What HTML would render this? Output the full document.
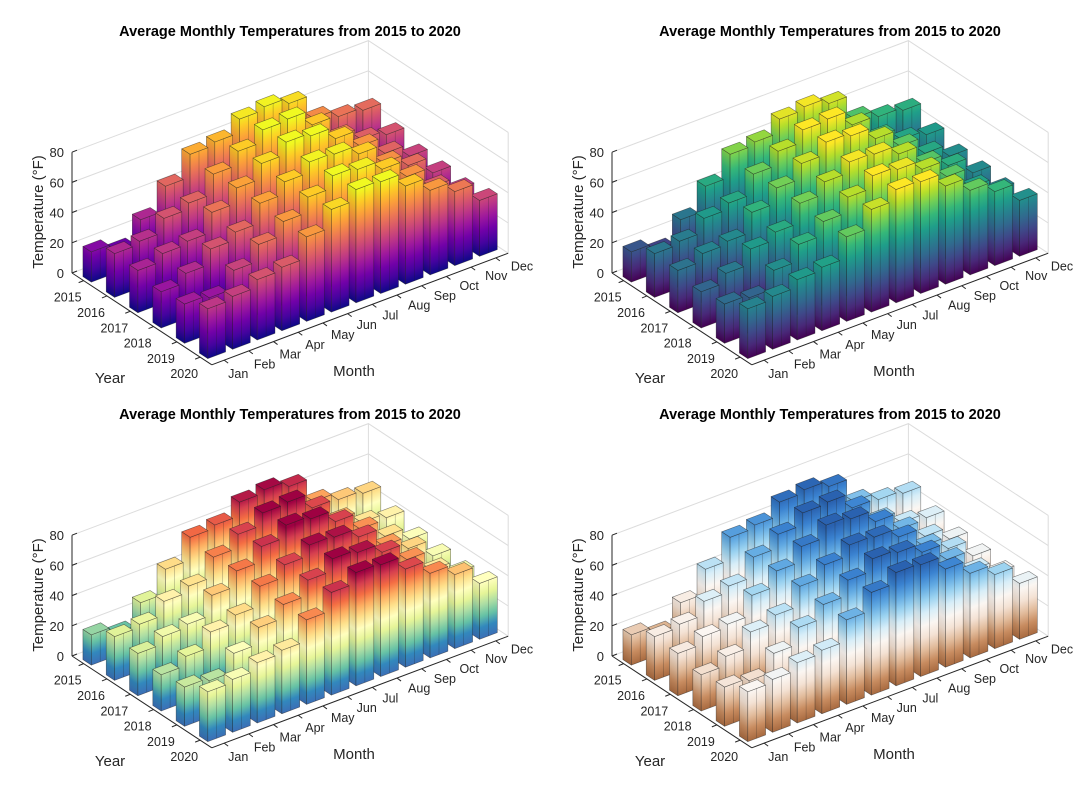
<!DOCTYPE html>
<html><head><meta charset="utf-8"><style>
html,body{margin:0;padding:0;background:#fff;}
svg{display:block;font-family:"Liberation Sans",Arial,sans-serif;}
</style></head><body>
<svg id="chart" width="1080" height="804" viewBox="0 0 1080 804" xmlns="http://www.w3.org/2000/svg"><defs id="defs"></defs></svg>
<script>
const months=["Jan","Feb","Mar","Apr","May","Jun","Jul","Aug","Sep","Oct","Nov","Dec"];
const years=["2015","2016","2017","2018","2019","2020"];
const temps2015=[20,15,29,45,60,62,71,73,69,53,48,46];
const temps2016=[29,31,40,44,57,66,74,75,65,51,43,40];
const temps2017=[28,33,35,48,58,68,76,74,66,55,44,36];
const temps2018=[24,30,40,45,58,66,73,72,66,54,46,35];
const temps2019=[26,24,36,47,56,66,74,72,66,55,42,34];
const temps2020=[33,35,40,42,56,68,75,74,65,56,49,37];
const temps=[temps2015,temps2016,temps2017,temps2018,temps2019,temps2020];
const zTicks=[0,20,40,60,80];
const cmapPlasma=["#0d0887","#46039f","#7201a8","#9c179e","#bd3786","#d8576b","#ed7953","#fb9f3a","#fdca26","#f0f921"];
const cmapViridis=["#440154","#482878","#3e4989","#31688e","#26828e","#1f9e89","#35b779","#6ece58","#b5de2b","#fde725"];
const cmapSpectral=["#3b6fb6","#3288bd","#66c2a5","#abdda4","#e6f598","#ffffbf","#fee08b","#fdae61","#f46d43","#d53e4f","#9e0142"];
const cmapBrBu=["#a86a40","#c88c60","#e2bc9c","#f4e2d4","#fbf6f2","#d8eef8","#9ad2f0","#62aae2","#3a82d0","#2a62b0"];
const cmaps=[cmapPlasma,cmapViridis,cmapSpectral,cmapBrBu];
const panelNames=["plasma","viridis","spectral","brown-blue"];

const NS="http://www.w3.org/2000/svg";
const svg=document.getElementById('chart');
const defs=document.getElementById('defs');
const offsets=[[0,0],[540,0],[0,383],[540,383]];
const ZMAX=80, CMAX=74, K=1.51, MW=0.72, YW=0.36;
const MV=[24.7,-9.3], YV=[23.3,15.3];
let gid=0;
function mk(tag,attrs,parent){const e=document.createElementNS(NS,tag);for(const k in attrs)e.setAttribute(k,attrs[k]);(parent||svg).appendChild(e);return e;}
function hex(c){return [parseInt(c.substr(1,2),16),parseInt(c.substr(3,2),16),parseInt(c.substr(5,2),16)];}
function cmapAt(cm,t){t=Math.max(0,Math.min(1,t));const f=t*(cm.length-1);const i=Math.min(cm.length-2,Math.floor(f));const u=f-i;const a=hex(cm[i]),b=hex(cm[i+1]);return "rgb("+a.map((v,k)=>Math.round(v+(b[k]-v)*u)).join(",")+")";}
function pts(arr){return arr.map(p=>p[0].toFixed(2)+","+p[1].toFixed(2)).join(" ");}

offsets.forEach((off,pi)=>{
  const ox=off[0],oy=off[1],cm=cmaps[pi];
  const P=(m,y,z)=>[ox+72+m*MV[0]+y*YV[0], oy+273+m*MV[1]+y*YV[1]-z*K];
  const g=mk('g',{});
  
  
  const title=mk('text',{x:ox+290,y:oy+36,'text-anchor':'middle','font-size':'14.5','font-weight':'bold',fill:'#000'},g);
  title.textContent="Average Monthly Temperatures from 2015 to 2020";
  
  
  const grid=mk('g',{stroke:'#dcdcdc','stroke-width':'1',fill:'none'},g);
  
  
  zTicks.forEach(z=>{
    const a=P(0,0,z),b=P(12,0,z),c=P(12,6,z);
    mk('polyline',{points:pts([a,b,c])},grid);
  });
  [[12,0],[0,0],[12,6]].forEach(q=>{const a=P(q[0],q[1],0),b=P(q[0],q[1],ZMAX);mk('line',{x1:a[0],y1:a[1],x2:b[0],y2:b[1]},grid);});
  const ax=mk('g',{stroke:'#262626','stroke-width':'1',fill:'none'},g);
  
  
  let a=P(0,0,0),b=P(0,0,ZMAX);mk('line',{x1:a[0],y1:a[1],x2:b[0],y2:b[1]},ax);
  a=P(0,0,0);b=P(0,6,0);mk('line',{x1:a[0],y1:a[1],x2:b[0],y2:b[1]},ax);
  a=P(0,6,0);b=P(12,6,0);mk('line',{x1:a[0],y1:a[1],x2:b[0],y2:b[1]},ax);
  zTicks.forEach(z=>{
    const p=P(0,0,z);
    mk('line',{x1:p[0],y1:p[1],x2:p[0]+5,y2:p[1]-2},ax);
    const t=mk('text',{x:p[0]-8,y:p[1]+5,'text-anchor':'end','font-size':'13',fill:'#262626'},g);
    t.textContent=String(z);
    
    
  });
  years.forEach((yr,j)=>{
    const p=P(0,j+0.5,0);
    mk('line',{x1:p[0],y1:p[1],x2:p[0]-5,y2:p[1]+2},ax);
    const t=mk('text',{x:p[0]-2,y:p[1]+21,'text-anchor':'end','font-size':'12.5',fill:'#262626'},g);
    t.textContent=yr;
    
    
  });
  months.forEach((mo,i)=>{
    const p=P(i+0.5,6,0);
    mk('line',{x1:p[0],y1:p[1],x2:p[0]+4,y2:p[1]+3},ax);
    const t=mk('text',{x:p[0]+4+i*1.0,y:p[1]+18-i*0.5,'text-anchor':'start','font-size':'12.5',fill:'#262626'},g);
    t.textContent=mo;
    
    
  });
  const zl=mk('text',{x:0,y:0,'text-anchor':'middle','font-size':'15',fill:'#262626',transform:'translate('+(ox+43)+','+(oy+212)+') rotate(-90)'},g);
  zl.textContent="Temperature (°F)";
  
  
  const yl=mk('text',{x:ox+110,y:oy+383,'text-anchor':'middle','font-size':'15',fill:'#262626'},g);
  yl.textContent="Year";
  
  
  const ml=mk('text',{x:ox+354,y:oy+376,'text-anchor':'middle','font-size':'15',fill:'#262626'},g);
  ml.textContent="Month";
  
  
  const bars=mk('g',{stroke:'rgba(30,30,30,0.55)','stroke-width':'0.6','stroke-linejoin':'round'},g);
  
  
  function grad(px,py,t){
    const id='gr'+(gid++);
    const Y0=py-px*t, Y1=Y0-CMAX*K;
    const lg=mk('linearGradient',{id:id,gradientUnits:'userSpaceOnUse',x1:0,y1:Y0,x2:0,y2:Y1,gradientTransform:'skewY('+(Math.atan(t)*180/Math.PI)+')'},defs);
    cm.forEach((c,k)=>mk('stop',{offset:(k/(cm.length-1)).toFixed(3),'stop-color':c},lg));
    return 'url(#'+id+')';
  }
  for(let j=0;j<years.length;j++){
    for(let i=months.length-1;i>=0;i--){
      const h=temps[j][i];
      const m0=i+0.5-MW/2,m1=i+0.5+MW/2,y0=j+0.5-YW/2,y1=j+0.5+YW/2;
      const bg=mk('g',{},bars);
      
      
      const lb=P(m0,y1,0);
      const tl=YV[1]/YV[0], tf=MV[1]/MV[0];
      mk('polygon',{points:pts([P(m0,y0,0),P(m0,y1,0),P(m0,y1,h),P(m0,y0,h)]),fill:grad(lb[0],lb[1],tl)},bg);
      mk('polygon',{points:pts([P(m0,y0,0),P(m0,y1,0),P(m0,y1,h),P(m0,y0,h)]),fill:'rgba(0,0,0,0.07)',stroke:'none'},bg);
      mk('polygon',{points:pts([P(m0,y1,0),P(m1,y1,0),P(m1,y1,h),P(m0,y1,h)]),fill:grad(lb[0],lb[1],tf)},bg);
      mk('polygon',{points:pts([P(m0,y0,h),P(m1,y0,h),P(m1,y1,h),P(m0,y1,h)]),fill:cmapAt(cm,h/CMAX)},bg);
      const e1=P((m0+m1)/2,y1,0),e2=P((m0+m1)/2,y1,h);
      mk('line',{x1:e1[0],y1:e1[1],x2:e2[0],y2:e2[1],'stroke-width':'0.4'},bg);
    }
  }
});
</script>
</body></html>
